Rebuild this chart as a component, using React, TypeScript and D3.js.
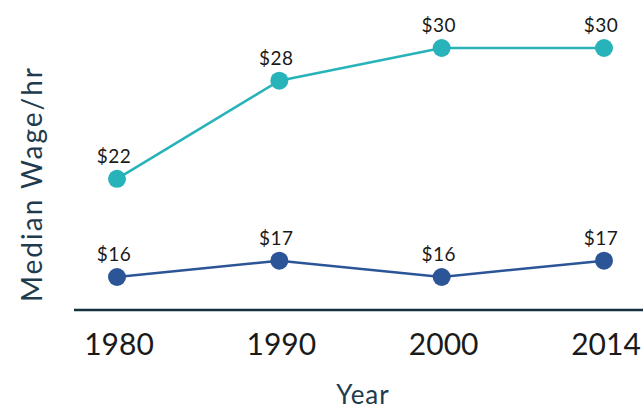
import * as d3 from "d3";

const years = ["1980", "1990", "2000", "2014"];
const upperWages = [22, 28, 30, 30];
const lowerWages = [16, 17, 16, 17];

const width = 643;
const height = 410;
const font = "Lato, 'Open Sans', sans-serif";

export default function App() {
  const x = d3.scalePoint<string>(years, [117, 604]);
  const y = d3.scaleLinear([16, 30], [277, 48]);
  const axisY = 310;

  const series = [
    { values: upperWages, color: "#27b3b9" },
    { values: lowerWages, color: "#2b5597" },
  ];

  const line = d3
    .line<number>()
    .x((_d, i) => x(years[i]) as number)
    .y((d) => y(d));

  return (
    <svg
      width={width}
      height={height}
      style={{ position: "absolute", left: 0, top: 0, background: "#fff" }}
    >
      <line x1={74} x2={width} y1={axisY} y2={axisY} stroke="#15303f" strokeWidth={2.5} />

      {series.map((s, si) => (
        <g key={si}>
          <path d={line(s.values) || ""} fill="none" stroke={s.color} strokeWidth={2.5} />
          {s.values.map((v, i) => (
            <circle key={i} cx={x(years[i])} cy={y(v)} r={9} fill={s.color} />
          ))}
          {s.values.map((v, i) => (
            <text
              key={"t" + i}
              x={(x(years[i]) as number) - 3}
              y={y(v) - 16}
              textAnchor="middle"
              fontFamily={font}
              fontSize={19}
              letterSpacing={0.5}
              fill="#1a1a1a"
            >
              ${v}
            </text>
          ))}
        </g>
      ))}

      {years.map((yr) => (
        <text
          key={yr}
          x={(x(yr) as number) + 2}
          y={355}
          textAnchor="middle"
          fontFamily={font}
          fontSize={30}
          fill="#1a1a1a"
        >
          {yr}
        </text>
      ))}

      <text
        x={363}
        y={404}
        textAnchor="middle"
        fontFamily={font}
        fontSize={26}
        letterSpacing={1}
        fill="#1f3b4d"
      >
        Year
      </text>

      <text
        transform={`translate(42,184) rotate(-90)`}
        textAnchor="middle"
        fontFamily={font}
        fontSize={28}
        letterSpacing={2}
        fill="#1f3b4d"
      >
        Median Wage/hr
      </text>
    </svg>
  );
}
